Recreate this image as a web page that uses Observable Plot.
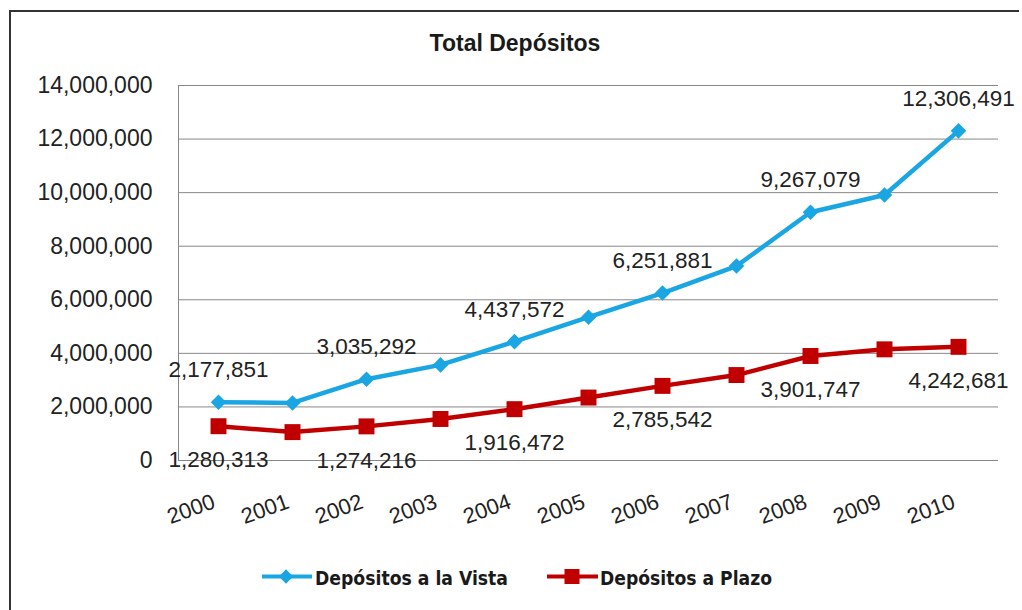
<!DOCTYPE html>
<html>
<head>
<meta charset="utf-8">
<script src="https://cdn.jsdelivr.net/npm/d3@7"></script>
<script src="https://cdn.jsdelivr.net/npm/@observablehq/plot@0.6"></script>
<style>
  body { margin: 0; background: #fff; }
  #wrap { position: relative; width: 1022px; height: 610px; overflow: hidden; font-family: "Liberation Sans", Arial, sans-serif; background: #fff; }
  #frame { position: absolute; left: 9px; top: 10px; width: 1010px; height: 700px; border-left: 2px solid #333; border-top: 2px solid #333; box-sizing: border-box; }
  #title { position: absolute; left: 0; width: 1030px; top: 32px; line-height: 23px; text-align: center; font-weight: bold; font-size: 23px; color: #1a1a1a; }
  #chart { position: absolute; left: 0; top: 0; }
  #legend { position: absolute; left: 0; top: 555px; }
</style>
</head>
<body>
<div id="wrap">
  <div id="frame"></div>
  <div id="chart"></div>
  <div id="title">Total Depósitos</div>
  <div id="legend"></div>
</div>
<script>
// ---- data ----
const years = ["2000","2001","2002","2003","2004","2005","2006","2007","2008","2009","2010"];
const vista = [2177851, 2150000, 3035292, 3570000, 4437572, 5350000, 6251881, 7260000, 9267079, 9910000, 12306491];
const plazo = [1280313, 1060000, 1274216, 1550000, 1916472, 2350000, 2785542, 3190000, 3901747, 4150000, 4242681];
const labeledYears = ["2000","2002","2004","2006","2008","2010"];
const seriesNames = ["Depósitos a la Vista", "Depósitos a Plazo"];
const seriesColors = ["#1aa5e3", "#c00000"];
const yTicks = [0, 2000000, 4000000, 6000000, 8000000, 10000000, 12000000, 14000000];

const fmt = d3.format(",");
const dataV = years.map((y, i) => ({year: y, value: vista[i]}));
const dataP = years.map((y, i) => ({year: y, value: plazo[i]}));
const labV = dataV.filter(d => labeledYears.includes(d.year));
const labP = dataP.filter(d => labeledYears.includes(d.year));

const chart = Plot.plot({
  width: 1022,
  height: 540,
  marginLeft: 178,
  marginRight: 24,
  marginTop: 85,
  marginBottom: 80,
  x: {type: "point", domain: years, padding: 0.5, axis: null},
  y: {domain: [0, 14000000], axis: null, label: null},
  style: {fontFamily: "Liberation Sans, Arial, sans-serif", fontSize: "22px", color: "#222", background: "transparent", overflow: "visible"},
  marks: [
    Plot.gridY(yTicks, {stroke: "#878787", strokeOpacity: 1, strokeWidth: 1}),
    Plot.frame({anchor: "left", stroke: "#878787", strokeWidth: 1}),
    Plot.axisY(yTicks, {tickSize: 0, tickPadding: 26, tickFormat: fmt, fontSize: 23, fill: "#222", label: null}),
    Plot.text(years, {x: d => d, frameAnchor: "bottom", dy: 47, dx: -2, rotate: -20, textAnchor: "end", fontSize: 22, fill: "#222"}),
    Plot.line(dataV, {x: "year", y: "value", stroke: seriesColors[0], strokeWidth: 4.5}),
    Plot.line(dataP, {x: "year", y: "value", stroke: seriesColors[1], strokeWidth: 4.5}),
    Plot.dot(dataV, {x: "year", y: "value", symbol: "diamond2", r: 7, fill: seriesColors[0], stroke: "none"}),
    Plot.dot(dataP, {x: "year", y: "value", symbol: "square", r: 9, fill: seriesColors[1], stroke: "none"}),
    Plot.text(labV, {x: "year", y: "value", text: d => fmt(d.value), dy: -32, fontSize: 22.5, fill: "#222"}),
    Plot.text(labP, {x: "year", y: "value", text: d => fmt(d.value), dy: 34, fontSize: 22.5, fill: "#222"})
  ]
});
document.getElementById("chart").appendChild(chart);

// ---- legend ----
const lg = d3.select("#legend").append("svg").attr("width", 1022).attr("height", 55);
const items = [
  {x0: 262, x1: 312, mx: 286, tx: 315, tl: 193, sym: "diamond"},
  {x0: 547, x1: 598, mx: 572, tx: 600, tl: 172, sym: "square"}
];
items.forEach((it, i) => {
  lg.append("line").attr("x1", it.x0).attr("x2", it.x1).attr("y1", 21.5).attr("y2", 21.5)
    .attr("stroke", seriesColors[i]).attr("stroke-width", 4);
  if (it.sym === "diamond") {
    lg.append("path").attr("d", d3.symbol(d3.symbolDiamond2, 130)()).attr("transform", `translate(${it.mx},21.5)`).attr("fill", seriesColors[i]);
  } else {
    lg.append("rect").attr("x", it.mx - 7.5).attr("y", 14).attr("width", 15).attr("height", 15).attr("fill", seriesColors[i]);
  }
  lg.append("text").attr("x", it.tx).attr("y", 30).attr("textLength", it.tl).attr("lengthAdjust", "spacingAndGlyphs")
    .attr("font-family", "DejaVu Sans Condensed, DejaVu Sans, sans-serif").attr("font-weight", "bold").attr("font-size", 19)
    .attr("fill", "#1a1a1a").text(seriesNames[i]);
});
</script>
</body>
</html>
